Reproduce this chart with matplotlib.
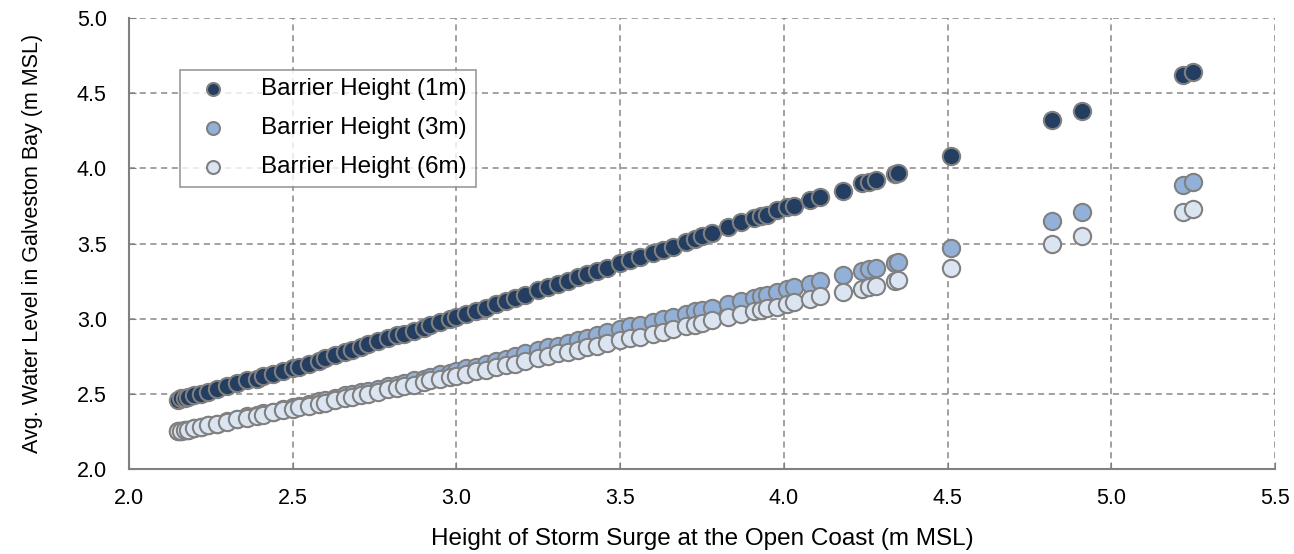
import matplotlib.pyplot as plt

# storm surge at open coast (m MSL), shared by all three barrier heights
surge = [2.15, 2.16, 2.17, 2.18, 2.20, 2.22, 2.24, 2.27, 2.30, 2.33,
         2.36, 2.39, 2.41, 2.44, 2.47, 2.50, 2.52, 2.55, 2.58, 2.60,
         2.63, 2.66, 2.68, 2.71, 2.73, 2.76, 2.79, 2.82, 2.84, 2.87,
         2.90, 2.92, 2.95, 2.98, 3.00, 3.03, 3.06, 3.09, 3.12, 3.15,
         3.18, 3.21, 3.25, 3.28, 3.31, 3.34, 3.37, 3.40, 3.43, 3.46,
         3.50, 3.53, 3.56, 3.60, 3.63, 3.66, 3.70, 3.73, 3.75, 3.78,
         3.83, 3.87, 3.91, 3.93, 3.95, 3.98, 4.01, 4.03, 4.08, 4.11,
         4.18, 4.24, 4.26, 4.28, 4.34, 4.35, 4.51, 4.82, 4.91, 5.22,
         5.25]

bay_1m = [2.46, 2.47, 2.47, 2.48, 2.49, 2.50, 2.51, 2.53, 2.55, 2.57,
          2.59, 2.60, 2.62, 2.63, 2.65, 2.67, 2.68, 2.70, 2.72, 2.74,
          2.76, 2.78, 2.79, 2.81, 2.83, 2.85, 2.87, 2.89, 2.90, 2.92,
          2.94, 2.96, 2.98, 3.00, 3.01, 3.03, 3.05, 3.07, 3.10, 3.12,
          3.14, 3.16, 3.19, 3.21, 3.23, 3.25, 3.28, 3.30, 3.32, 3.34,
          3.37, 3.39, 3.41, 3.44, 3.46, 3.48, 3.51, 3.53, 3.55, 3.57,
          3.61, 3.64, 3.67, 3.68, 3.69, 3.72, 3.74, 3.75, 3.79, 3.81,
          3.85, 3.90, 3.91, 3.92, 3.96, 3.97, 4.08, 4.32, 4.38, 4.62,
          4.64]

bay_3m = [2.25, 2.25, 2.26, 2.26, 2.27, 2.28, 2.29, 2.30, 2.32, 2.33,
          2.35, 2.36, 2.37, 2.38, 2.40, 2.41, 2.42, 2.43, 2.45, 2.46,
          2.47, 2.49, 2.50, 2.51, 2.52, 2.53, 2.55, 2.56, 2.57, 2.59,
          2.60, 2.61, 2.63, 2.64, 2.65, 2.67, 2.68, 2.70, 2.72, 2.73,
          2.75, 2.77, 2.79, 2.81, 2.82, 2.84, 2.86, 2.87, 2.89, 2.91,
          2.93, 2.95, 2.96, 2.98, 3.00, 3.01, 3.03, 3.05, 3.06, 3.07,
          3.10, 3.12, 3.14, 3.15, 3.16, 3.18, 3.20, 3.21, 3.23, 3.25,
          3.29, 3.32, 3.33, 3.34, 3.37, 3.38, 3.47, 3.65, 3.71, 3.89,
          3.91]

bay_6m = [2.25, 2.25, 2.26, 2.26, 2.27, 2.28, 2.29, 2.30, 2.31, 2.33,
          2.34, 2.35, 2.36, 2.38, 2.39, 2.40, 2.41, 2.42, 2.43, 2.44,
          2.46, 2.47, 2.48, 2.49, 2.50, 2.51, 2.53, 2.54, 2.55, 2.56,
          2.58, 2.59, 2.60, 2.61, 2.62, 2.63, 2.65, 2.66, 2.68, 2.69,
          2.70, 2.72, 2.74, 2.75, 2.77, 2.78, 2.79, 2.81, 2.82, 2.84,
          2.86, 2.87, 2.88, 2.90, 2.91, 2.93, 2.95, 2.96, 2.97, 2.99,
          3.01, 3.03, 3.05, 3.06, 3.07, 3.08, 3.10, 3.11, 3.13, 3.15,
          3.18, 3.20, 3.21, 3.22, 3.25, 3.26, 3.34, 3.50, 3.55, 3.71,
          3.73]

labels = ['Barrier Height (1m)', 'Barrier Height (3m)', 'Barrier Height (6m)']
colors = ['#233E60', '#93B1D8', '#DBE5F2']

plt.rcParams['font.family'] = ['Liberation Sans', 'DejaVu Sans']

fig = plt.figure(figsize=(12.94, 5.54), dpi=100)
ax = fig.add_axes([0.0997, 0.1534, 0.8856, 0.8141])

for ys, c, lab in zip([bay_1m, bay_3m, bay_6m], colors, labels):
    ax.scatter(surge, ys, s=155, c=c, edgecolors='#808080', linewidths=1.5,
               label=lab, zorder=3)

ax.set_xlim(2.0, 5.5)
ax.set_ylim(2.0, 5.0)
ax.set_xticks([2.0, 2.5, 3.0, 3.5, 4.0, 4.5, 5.0, 5.5])
ax.set_yticks([2.0, 2.5, 3.0, 3.5, 4.0, 4.5, 5.0])
ax.xaxis.set_major_formatter(plt.FormatStrFormatter('%.1f'))
ax.yaxis.set_major_formatter(plt.FormatStrFormatter('%.1f'))

ax.grid(True, color='#888888', linestyle=(0, (4, 3)), linewidth=1.1, zorder=0)
for side in ['top', 'right']:
    ax.spines[side].set_visible(False)
for side in ['left', 'bottom']:
    ax.spines[side].set_color('#808080')
    ax.spines[side].set_linewidth(1.5)
ax.tick_params(direction='in', length=5, color='#808080', labelsize=15.5)
ax.tick_params(axis='x', pad=14)
ax.tick_params(axis='y', pad=16)

ax.set_xlabel('Height of Storm Surge at the Open Coast (m MSL)', fontsize=17.5, labelpad=13)
ax.set_ylabel('Avg. Water Level in Galveston Bay (m MSL)', fontsize=15.5, labelpad=24)

leg = ax.legend(loc='upper left', bbox_to_anchor=(0.0445, 0.885), fontsize=17.5,
                frameon=True, fancybox=False, edgecolor='#808080',
                borderpad=0.35, labelspacing=0.7, handletextpad=1.0,
                borderaxespad=0, scatterpoints=1, markerscale=0.75)
leg.get_frame().set_linewidth(1.2)

fig.savefig('out.png', dpi=100)
